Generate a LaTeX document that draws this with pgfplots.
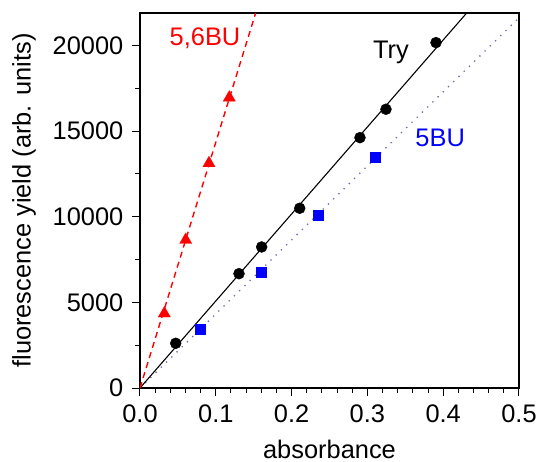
\documentclass[border=0pt]{standalone}
\usepackage{pgfplots}
\pgfplotsset{compat=1.18}
\usepackage{fontspec}
\setmainfont{Liberation Sans}
\definecolor{dotblue}{RGB}{110,110,170}
\begin{document}
\fontsize{25.5}{30}\selectfont
\begin{tikzpicture}
\begin{axis}[
 scale only axis, width=379bp, height=375bp,
 xmin=0, xmax=0.5, ymin=0, ymax=21900,
 xtick={0,0.1,0.2,0.3,0.4,0.5}, ytick={0,5000,10000,15000,20000},
 minor x tick num=4, minor y tick num=1,
 tick align=outside, tick pos=left,
 major tick length=8bp, minor tick length=4.5bp,
 scaled ticks=false,
 xticklabel style={/pgf/number format/.cd, fixed, fixed zerofill, precision=1},
 yticklabel style={/pgf/number format/.cd, fixed, 1000 sep={}},
 /pgf/number format/assume math mode=true,
 tick label style={font=\fontsize{25.5}{30}\selectfont},
 label style={font=\fontsize{25.5}{30}\selectfont},
 xlabel={absorbance}, ylabel={fluorescence yield (arb. units)},
 xlabel style={at={(axis description cs:0.5,0)}, anchor=base, yshift=-70bp},
 ylabel style={at={(axis description cs:-0.3377,0.5)}, anchor=north, inner sep=0pt},
 axis line style={line width=1.2bp},
 every tick/.style={black, line width=1bp},
]
\addplot[dotblue, line width=1.3bp, dash pattern=on 1.3bp off 6bp] coordinates {(0,0) (0.5,21620)};
\addplot[black, line width=1.1bp] coordinates {(0,0) (0.431,21900)};
\addplot[red, line width=1.4bp, dash pattern=on 6bp off 4.5bp] coordinates {(0,0) (0.1526,21900)};
\addplot[only marks, mark=*, mark size=5.5bp, black] coordinates {
(0.0471,2611) (0.1306,6677) (0.1605,8236) (0.2107,10497) (0.2902,14621) (0.3245,16279) (0.3905,20170)};
\addplot[only marks, mark=square*, mark size=5bp, blue] coordinates {
(0.0796,3446) (0.1596,6776) (0.2353,10087) (0.3105,13493)};
\addplot[only marks, mark=triangle*, mark size=7bp, red] coordinates {
(0.0321,4350) (0.0603,8645) (0.091,13125) (0.1178,16957)};
\node[red] at (axis cs:0.0858,20400) {5,6BU};
\node[black] at (axis cs:0.331,19570) {Try};
\node[blue] at (axis cs:0.396,14600) {5BU};
\end{axis}
\pgfresetboundingbox
\path[use as bounding box] ([shift={(-140bp,13bp)}]current axis.north west) rectangle ([shift={(18bp,-74bp)}]current axis.south east);
\end{tikzpicture}
\end{document}
